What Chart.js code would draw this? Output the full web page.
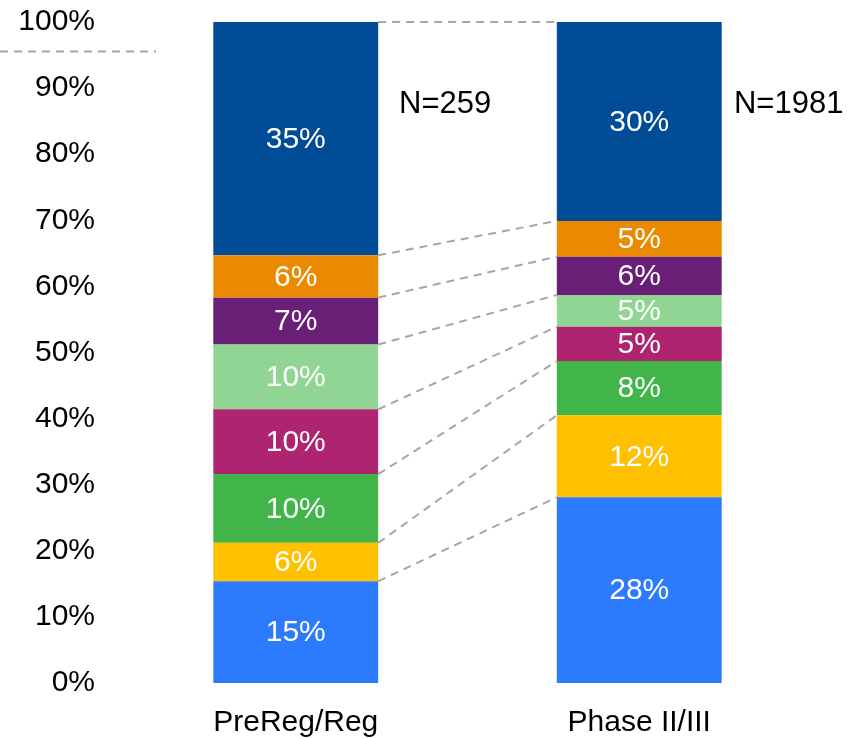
<!DOCTYPE html>
<html>
<head>
<meta charset="utf-8">
<script src="https://cdn.jsdelivr.net/npm/chart.js@4"></script>
<style>
  body { margin: 0; background: #fff; }
  #wrap { width: 861px; height: 739px; }
</style>
</head>
<body>
<div id="wrap"><canvas id="myChart"></canvas></div>
<script>
// categories and per-segment shares (bottom to top), in %
var categories = ['PreReg/Reg', 'Phase II/III'];
var nLabels = ['N=259', 'N=1981'];
var seg1 = [15.4, 28.1];   // blue
var seg2 = [5.8, 12.4];    // yellow
var seg3 = [10.4, 8.2];    // green
var seg4 = [9.8, 5.2];     // magenta
var seg5 = [9.8, 4.8];     // light green
var seg6 = [7.1, 5.8];     // purple
var seg7 = [6.4, 5.4];     // orange
var seg8 = [35.3, 30.1];   // dark blue
var yTicks = [0, 10, 20, 30, 40, 50, 60, 70, 80, 90, 100];

var segments = [seg1, seg2, seg3, seg4, seg5, seg6, seg7, seg8];
var colors = ['#2C7BFD', '#FFC000', '#41B549', '#AE2470', '#90D593', '#6A1F76', '#EB8A00', '#004C97'];
var FONT = "'Liberation Sans', Arial, sans-serif";

var datasets = segments.map(function (s, i) {
    return {
        label: 'S' + (i + 1),
        data: s,
        backgroundColor: colors[i],
        borderWidth: 0,
        barPercentage: 0.96,
        categoryPercentage: 0.5
    };
});

// dashed connectors, value labels and N labels
var extras = {
    id: 'extras',
    afterDatasetsDraw: function (chart) {
        var ctx = chart.ctx;
        var yScale = chart.scales.y;
        var area = chart.chartArea;
        ctx.save();
        ctx.strokeStyle = '#A6A6A6';
        ctx.lineWidth = 2;
        ctx.setLineDash([8, 6]);
        chart.data.datasets.forEach(function (ds, i) {
            var m = chart.getDatasetMeta(i).data;
            ctx.beginPath();
            ctx.moveTo(m[0].x + m[0].width / 2, m[0].y);
            ctx.lineTo(m[1].x - m[1].width / 2, m[1].y);
            ctx.stroke();
        });
        // stray dashed rule at the top left
        var yy = Math.round(yScale.getPixelForValue(95.6)) + 0.5;
        ctx.beginPath();
        ctx.moveTo(0, yy);
        ctx.lineTo(area.left + 32, yy);
        ctx.stroke();
        ctx.setLineDash([]);

        ctx.font = '30px ' + FONT;
        ctx.fillStyle = '#fff';
        ctx.textAlign = 'center';
        ctx.textBaseline = 'middle';
        chart.data.datasets.forEach(function (ds, i) {
            chart.getDatasetMeta(i).data.forEach(function (el, j) {
                ctx.fillText(Math.round(ds.data[j]) + '%', el.x, (el.y + el.base) / 2 + 1);
            });
        });

        ctx.fillStyle = '#000';
        ctx.font = '31px ' + FONT;
        var top = chart.getDatasetMeta(0).data;
        top.forEach(function (el, j) {
            ctx.fillText(nLabels[j], el.x + el.width / 2 + 67, yScale.getPixelForValue(87.5));
        });
        ctx.restore();
    }
};

var ctx = document.getElementById('myChart').getContext('2d');
var myChart = new Chart(ctx, {
    type: 'bar',
    data: {
        labels: categories,
        datasets: datasets
    },
    options: {
        responsive: true,
        maintainAspectRatio: false,
        animation: false,
        layout: { padding: { top: 22, right: 50, bottom: 0, left: 0 } },
        plugins: {
            legend: { display: false },
            tooltip: { enabled: false }
        },
        scales: {
            x: {
                stacked: true,
                grid: { display: false },
                border: { display: false },
                ticks: { color: '#000', font: { family: FONT, size: 30 }, padding: 14 },
                afterFit: function (s) { s.height = 56; }
            },
            y: {
                stacked: true,
                min: 0,
                max: 100,
                grid: { display: false },
                border: { display: false },
                afterBuildTicks: function (s) {
                    s.ticks = yTicks.map(function (v) { return { value: v }; });
                },
                ticks: {
                    color: '#000',
                    font: { family: FONT, size: 30 },
                    padding: 21,
                    callback: function (v) { return v + '%'; }
                },
                afterFit: function (s) {
                    s.width = 124;
                    s.paddingTop = 0;
                    s.paddingBottom = 0;
                }
            }
        }
    },
    plugins: [extras]
});
</script>
</body>
</html>
